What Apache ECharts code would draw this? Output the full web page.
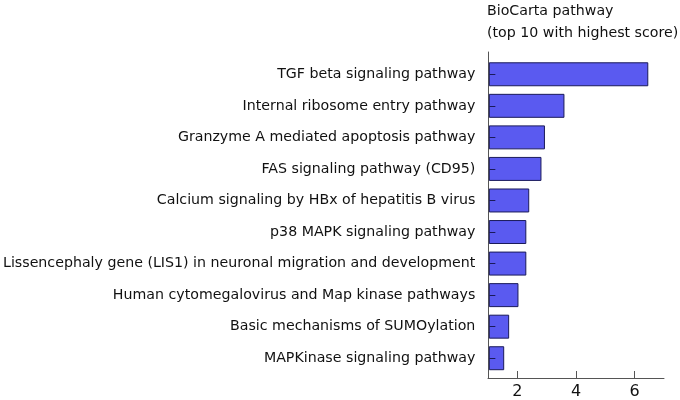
<!DOCTYPE html>
<html><head><meta charset="utf-8">
<script src="https://cdn.jsdelivr.net/npm/echarts@6/dist/echarts.min.js"></script>
<style>html,body{margin:0;padding:0;background:#fff}#c{width:680px;height:400px}</style>
</head><body><div id="c"></div>
<script>
const categories = [
  "TGF beta signaling pathway",
  "Internal ribosome entry pathway",
  "Granzyme A mediated apoptosis pathway",
  "FAS signaling pathway (CD95)",
  "Calcium signaling by HBx of hepatitis B virus",
  "p38 MAPK signaling pathway",
  "Lissencephaly gene (LIS1) in neuronal migration and development",
  "Human cytomegalovirus and Map kinase pathways",
  "Basic mechanisms of SUMOylation",
  "MAPKinase signaling pathway"
];
const scores = [6.46, 3.58, 2.91, 2.79, 2.37, 2.27, 2.27, 2.0, 1.68, 1.51];
const xTicks = [2, 4, 6];
const titleLines = ["BioCarta pathway", "(top 10 with highest score)"];

const FONT = "DejaVu Sans";
const chart = echarts.init(document.getElementById('c'));
chart.setOption({
  animation: false,
  backgroundColor: '#fff',
  title: {
    text: titleLines.join('\n'),
    left: 487, top: 0, padding: 0,
    textStyle: {fontFamily: FONT, fontSize: 14.2, fontWeight: 'normal', color: '#111', lineHeight: 22}
  },
  grid: [
    {left: 488, right: 16, top: 52, bottom: 20},
    {left: 488, right: 16, top: 58.5, bottom: 26}
  ],
  xAxis: [
    {gridIndex: 0, type: 'value', min: 1, max: 7,
     axisLine: {show: true, lineStyle: {color: '#555', width: 1}},
     axisTick: {show: true, inside: true, length: 7, lineStyle: {color: '#555'},
       customValues: xTicks},
     axisLabel: {fontFamily: FONT, fontSize: 16, color: '#111', margin: 6,
       customValues: xTicks},
     splitLine: {show: false}},
    {gridIndex: 1, type: 'value', min: 1, max: 7, show: false, splitLine: {show: false}}
  ],
  yAxis: [
    {gridIndex: 0, type: 'value', min: 0, max: 1,
     axisLine: {show: true, lineStyle: {color: '#555', width: 1}},
     axisTick: {show: false}, axisLabel: {show: false}, splitLine: {show: false}},
    {gridIndex: 1, type: 'category', data: categories, inverse: true,
     axisLine: {show: false},
     axisTick: {show: true, inside: true, alignWithLabel: true, length: 6, lineStyle: {color: '#1a1a5a'}},
     axisLabel: {fontFamily: FONT, fontSize: 14.2, color: '#111', margin: 14},
     z: 10}
  ],
  series: [{
    type: 'bar', xAxisIndex: 1, yAxisIndex: 1,
    data: scores,
    barCategoryGap: '24%',
    itemStyle: {color: '#5a5af0', borderColor: '#1a1a5a', borderWidth: 1}
  }]
});
</script></body></html>
